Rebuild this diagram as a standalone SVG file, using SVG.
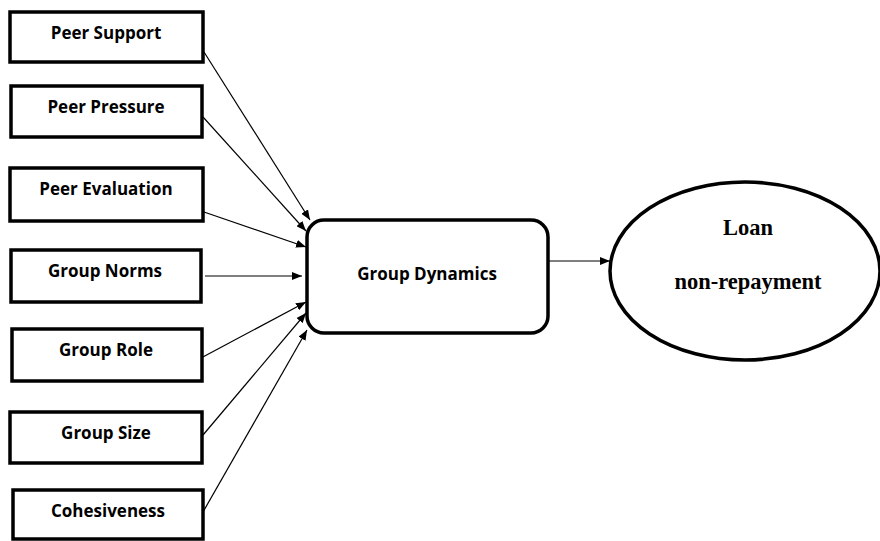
<svg xmlns="http://www.w3.org/2000/svg" width="880" height="541" viewBox="0 0 880 541">
<style>
.box{fill:#fff;stroke:#000;stroke-width:3.5}
.lbl{font-family:"Open Sans","Noto Sans",sans-serif;font-weight:bold;font-size:17px;text-anchor:middle;fill:#000}
.ser{font-family:"Liberation Serif","Times New Roman",serif;font-weight:bold;font-size:22.5px;text-anchor:middle;fill:#000}
.con{stroke:#000;stroke-width:1.2;fill:none;marker-end:url(#ah)}
</style>
<defs>
<marker id="ah" viewBox="0 0 10 8" refX="10" refY="4" markerWidth="10" markerHeight="8" markerUnits="userSpaceOnUse" orient="auto">
<path d="M0,0 L10,4 L0,8 Z" fill="#000"/>
</marker>
</defs>
<g id="connectors">
<line class="con" x1="204" y1="52" x2="310" y2="220"/>
<line class="con" x1="203" y1="117" x2="306" y2="231"/>
<line class="con" x1="204" y1="212" x2="306" y2="247"/>
<line class="con" x1="205" y1="276" x2="302" y2="276"/>
<line class="con" x1="201" y1="358" x2="306" y2="302"/>
<line class="con" x1="203" y1="435" x2="306" y2="313"/>
<line class="con" x1="203" y1="512" x2="307" y2="330"/>
<line class="con" x1="549" y1="261" x2="610" y2="261"/>
</g>
<g id="peer-support"><rect class="box" x="10" y="12" width="193" height="50"/><text class="lbl" x="106" y="39">Peer Support</text></g>
<g id="peer-pressure"><rect class="box" x="11" y="86" width="191" height="51"/><text class="lbl" x="106" y="113">Peer Pressure</text></g>
<g id="peer-evaluation"><rect class="box" x="10" y="168" width="193" height="53"/><text class="lbl" x="106" y="195">Peer Evaluation</text></g>
<g id="group-norms"><rect class="box" x="11" y="250" width="190" height="52"/><text class="lbl" x="105" y="277">Group Norms</text></g>
<g id="group-role"><rect class="box" x="12" y="329" width="190" height="52"/><text class="lbl" x="106" y="356">Group Role</text></g>
<g id="group-size"><rect class="box" x="10" y="412" width="192" height="51"/><text class="lbl" x="106" y="439">Group Size</text></g>
<g id="cohesiveness"><rect class="box" x="13" y="490" width="190" height="49"/><text class="lbl" x="108" y="517">Cohesiveness</text></g>
<g id="group-dynamics"><rect class="box" x="307" y="220" width="241" height="113" rx="17"/><text class="lbl" x="427" y="280">Group Dynamics</text></g>
<g id="loan"><ellipse class="box" cx="745" cy="271" rx="135" ry="89"/><text class="ser" x="748" y="235">Loan</text><text class="ser" x="748" y="289">non-repayment</text></g>
</svg>
